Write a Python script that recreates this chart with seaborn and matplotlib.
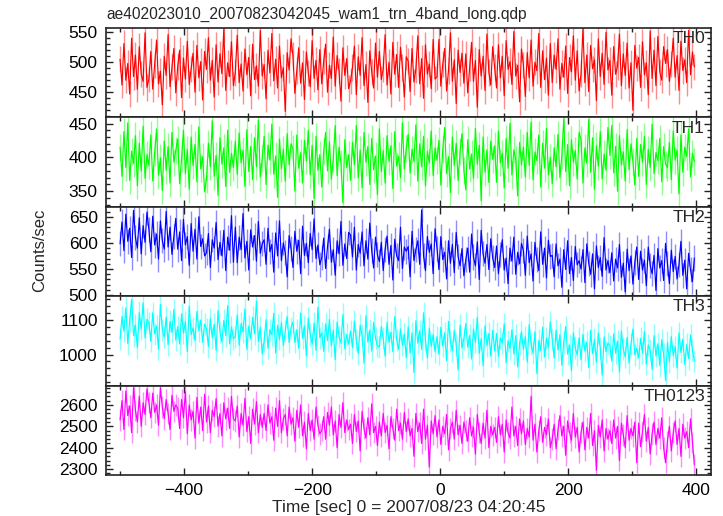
import numpy as np
import pandas as pd
import matplotlib
import matplotlib.pyplot as plt
import seaborn as sns
from matplotlib.ticker import MultipleLocator

matplotlib.use('Agg')

# light curve bins: start time [sec] and bin width [sec]
T_START = -500
T_BIN = 3

th0 = [505, 462, 531, 470, 498, 447, 540, 476, 512, 455, 526, 480, 468, 549, 458,
       472, 518, 455, 496, 537, 464, 485, 429, 510, 478, 546, 459, 492, 523, 449,
       493, 520, 441, 507, 472, 535, 463, 489, 515, 450, 528, 474, 501, 437, 518,
       488, 541, 470, 503, 442, 529, 467, 514, 481, 555, 453, 499, 476, 534, 461,
       483, 545, 466, 497, 452, 522, 479, 508, 444, 530, 471, 494, 460, 553, 477,
       496, 439, 520, 482, 548, 469, 505, 457, 527, 474, 491, 418, 516, 487, 539,
       511, 448, 486, 524, 465, 499, 438, 517, 482, 459, 536, 473, 503, 454, 521,
       464, 502, 530, 450, 495, 473, 542, 460, 511, 485, 435, 524, 478, 506, 456,
       469, 491, 527, 446, 509, 478, 541, 461, 496, 433, 519, 484, 457, 532, 475,
       518, 471, 489, 546, 462, 500, 447, 533, 480, 513, 458, 525, 491, 442, 509,
       502, 451, 523, 467, 488, 544, 464, 506, 440, 529, 480, 497, 456, 538, 472,
       476, 538, 460, 497, 523, 452, 486, 549, 468, 504, 431, 520, 483, 515, 465,
       514, 449, 490, 533, 468, 503, 425, 521, 477, 510, 453, 547, 483, 462, 526,
       492, 457, 529, 474, 510, 444, 536, 488, 501, 463, 551, 477, 495, 434, 522,
       495, 443, 516, 474, 537, 460, 500, 486, 548, 458, 519, 471, 507, 445, 531,
       466, 512, 488, 539, 455, 498, 475, 527, 448, 508, 484, 544, 470, 519, 452,
       481, 556, 466, 512, 451, 528, 489, 504, 436, 539, 476, 515, 463, 550, 487,
       503, 445, 526, 480, 493, 547, 461, 514, 478, 532, 457, 499, 420, 528, 490,
       508, 458, 534, 479, 499, 446, 552, 473, 520, 461, 543, 484, 470, 526, 498,
       521, 468, 497, 540, 475, 511, 453, 535, 486, 504, 466, 553, 479, 517, 492]

th1 = [415, 372, 438, 385, 451, 366, 409, 391, 432, 358, 421, 380, 446, 369, 404,
       388, 433, 365, 407, 442, 374, 399, 351, 424, 381, 416, 362, 437, 393, 410,
       427, 361, 398, 440, 376, 412, 353, 430, 388, 419, 364, 445, 383, 401, 349,
       368, 421, 386, 454, 372, 403, 344, 429, 390, 414, 357, 440, 378, 406, 385,
       424, 375, 436, 392, 410, 357, 441, 379, 416, 367, 429, 386, 455, 371, 398,
       431, 360, 418, 396, 449, 375, 402, 341, 427, 383, 412, 365, 435, 389, 420,
       413, 350, 433, 384, 407, 362, 425, 395, 440, 374, 418, 339, 431, 381, 404,
       356, 409, 437, 380, 423, 368, 398, 447, 373, 415, 391, 333, 426, 385, 404,
       366, 422, 389, 447, 370, 411, 355, 437, 393, 416, 360, 428, 382, 402, 345,
       442, 379, 410, 362, 432, 394, 417, 354, 438, 387, 402, 370, 451, 383, 413,
       434, 377, 412, 394, 448, 365, 420, 386, 431, 358, 409, 392, 439, 373, 414,
       396, 425, 359, 412, 444, 376, 401, 348, 430, 388, 421, 366, 408, 435, 380,
       352, 426, 383, 405, 369, 443, 390, 418, 336, 430, 378, 411, 363, 424, 397,
       417, 363, 439, 392, 406, 355, 428, 384, 450, 374, 411, 397, 343, 422, 389,
       415, 371, 437, 388, 452, 367, 408, 395, 433, 356, 421, 384, 443, 374, 400,
       361, 414, 386, 434, 370, 403, 457, 379, 419, 358, 426, 393, 410, 368, 437,
       426, 362, 414, 391, 456, 378, 429, 353, 417, 387, 438, 368, 405, 381, 444,
       403, 447, 377, 416, 350, 432, 389, 408, 365, 441, 382, 420, 394, 359, 428,
       372, 419, 393, 431, 360, 412, 385, 449, 376, 407, 395, 428, 364, 416, 390,
       385, 422, 367, 439, 396, 411, 346, 433, 378, 415, 401, 442, 371, 406, 394]

th2 = [598, 640, 585, 655, 603, 628, 572, 662, 610, 590, 648, 579, 633, 601, 659,
       625, 583, 651, 596, 617, 569, 642, 604, 588, 660, 592, 630, 578, 613, 647,
       588, 621, 566, 645, 596, 612, 557, 637, 584, 626, 569, 650, 593, 608, 575,
       581, 618, 553, 606, 590, 639, 568, 601, 575, 624, 547, 611, 586, 652, 563,
       630, 562, 611, 587, 656, 571, 603, 548, 625, 592, 614, 565, 641, 580, 598,
       606, 559, 628, 583, 597, 544, 619, 575, 642, 566, 600, 581, 535, 614, 589,
       553, 622, 584, 605, 541, 632, 576, 599, 562, 618, 587, 646, 570, 596, 558,
       572, 609, 551, 593, 626, 563, 587, 538, 604, 579, 641, 557, 598, 570, 620,
       615, 573, 630, 548, 597, 580, 621, 556, 604, 569, 638, 585, 552, 611, 577,
       564, 601, 547, 588, 613, 559, 595, 529, 607, 575, 566, 630, 551, 592, 584,
       593, 535, 622, 566, 587, 604, 559, 663, 575, 547, 612, 582, 598, 541, 627,
       590, 549, 612, 568, 582, 531, 604, 561, 597, 543, 620, 574, 556, 589, 537,
       568, 590, 544, 617, 573, 556, 602, 530, 624, 579, 561, 597, 549, 608, 571,
       553, 594, 541, 578, 606, 548, 571, 522, 590, 565, 611, 540, 582, 560, 599,
       585, 538, 613, 562, 579, 527, 601, 568, 547, 621, 559, 590, 533, 605, 574,
       576, 535, 598, 556, 569, 515, 587, 549, 604, 541, 572, 528, 593, 558, 566,
       550, 587, 524, 598, 561, 540, 579, 512, 594, 553, 572, 536, 610, 548, 566,
       543, 581, 527, 569, 552, 597, 534, 561, 506, 588, 547, 575, 521, 563, 592,
       530, 584, 548, 567, 518, 592, 557, 541, 576, 509, 589, 552, 566, 528, 599,
       561, 522, 586, 545, 574, 531, 559, 603, 538, 567, 512, 580, 549, 526, 571]

th3 = [1045, 1110, 1068, 1135, 1032, 1098, 1160, 1055, 1085, 1020, 1122, 1074, 1150, 1048, 1102,
       1092, 1038, 1121, 1060, 1083, 1016, 1145, 1071, 1050, 1108, 1029, 1096, 1064, 1130, 1042,
       1081, 1030, 1118, 1062, 1095, 1008, 1140, 1058, 1077, 1040, 1125, 1069, 1100, 1035, 1088,
       1075, 1023, 1104, 1049, 1088, 1012, 1127, 1066, 1037, 1099, 1055, 1142, 1031, 1080, 1046,
       1052, 1115, 1027, 1090, 1066, 1132, 1015, 1083, 1045, 1108, 1060, 1155, 1038, 1079, 1002,
       1039, 1101, 1018, 1072, 1057, 1119, 1004, 1085, 1044, 1093, 1026, 1067, 1110, 1035, 1078,
       1094, 1035, 1072, 1018, 1120, 1047, 1083, 996, 1105, 1058, 1030, 1091, 1012, 1137, 1049,
       1063, 1009, 1089, 1040, 1102, 1025, 1071, 985, 1094, 1052, 1033, 1116, 1017, 1058, 1030,
       1068, 1020, 1097, 1041, 1003, 1085, 1056, 975, 1112, 1036, 1071, 1010, 1093, 1047, 1025,
       1022, 1081, 1047, 995, 1093, 1036, 1064, 1008, 1110, 1043, 1015, 1074, 1027, 1059, 991,
       1080, 1005, 1062, 948, 1098, 1033, 1069, 1015, 1121, 1042, 990, 1077, 1024, 1058, 1008,
       1052, 1001, 1079, 1024, 1063, 982, 1096, 1038, 1011, 1070, 1029, 956, 1085, 1019, 1046,
       1090, 1021, 1055, 987, 1074, 1035, 1108, 1003, 1046, 968, 1083, 1026, 1061, 995, 1070,
       1010, 1061, 995, 1048, 1033, 1089, 976, 1040, 1017, 1072, 1002, 1055, 964, 1031, 1066,
       1015, 1052, 978, 1087, 1030, 1004, 1066, 945, 1041, 1012, 1079, 993, 1048, 1020, 1095,
       1044, 990, 1071, 1013, 1058, 969, 1036, 1081, 1001, 1027, 953, 1063, 1020, 998, 1049,
       985, 1058, 1010, 1036, 962, 1070, 1002, 1044, 978, 1062, 1019, 940, 1051, 1008, 1033,
       1026, 981, 1060, 1004, 1039, 950, 1068, 1016, 993, 1050, 975, 1031, 1074, 999, 1018,
       990, 1047, 1004, 1066, 972, 1028, 1012, 957, 1055, 996, 1031, 968, 1043, 1001, 925,
       1035, 979, 1052, 997, 1023, 961, 1063, 1006, 1044, 971, 1029, 988, 1057, 1012, 982]

th0123 = [2530, 2620, 2485, 2665, 2550, 2595, 2470, 2680, 2575, 2520, 2640, 2500, 2610, 2555, 2675,
          2610, 2540, 2655, 2565, 2600, 2505, 2680, 2590, 2535, 2625, 2560, 2485, 2645, 2570, 2600,
          2585, 2490, 2625, 2540, 2660, 2465, 2600, 2530, 2570, 2445, 2635, 2515, 2590, 2480, 2650,
          2520, 2595, 2470, 2575, 2545, 2630, 2500, 2560, 2455, 2610, 2535, 2585, 2490, 2640, 2535,
          2525, 2595, 2450, 2560, 2505, 2630, 2475, 2545, 2420, 2580, 2510, 2615, 2470, 2555, 2495,
          2560, 2480, 2600, 2515, 2545, 2435, 2585, 2500, 2620, 2470, 2535, 2555, 2455, 2590, 2510,
          2540, 2430, 2575, 2495, 2600, 2455, 2520, 2395, 2560, 2480, 2530, 2440, 2590, 2505, 2465,
          2480, 2545, 2440, 2565, 2505, 2590, 2460, 2525, 2400, 2555, 2495, 2610, 2470, 2530, 2485,
          2510, 2420, 2555, 2475, 2525, 2385, 2570, 2490, 2445, 2540, 2460, 2605, 2470, 2500, 2410,
          2520, 2455, 2560, 2470, 2505, 2395, 2545, 2490, 2435, 2580, 2480, 2515, 2440, 2565, 2475,
          2535, 2455, 2490, 2360, 2560, 2475, 2515, 2420, 2580, 2440, 2505, 2310, 2525, 2465, 2550,
          2450, 2530, 2415, 2500, 2465, 2555, 2390, 2490, 2520, 2440, 2575, 2460, 2505, 2420, 2520,
          2480, 2430, 2540, 2455, 2495, 2370, 2555, 2470, 2420, 2515, 2445, 2575, 2400, 2500, 2460,
          2495, 2425, 2545, 2460, 2510, 2380, 2530, 2470, 2445, 2590, 2455, 2500, 2410, 2535, 2465,
          2525, 2415, 2490, 2450, 2640, 2435, 2510, 2380, 2480, 2545, 2425, 2495, 2460, 2535, 2400,
          2440, 2510, 2395, 2485, 2550, 2455, 2500, 2365, 2525, 2470, 2435, 2560, 2450, 2495, 2380,
          2470, 2520, 2390, 2495, 2445, 2560, 2410, 2480, 2295, 2505, 2450, 2530, 2385, 2490, 2440,
          2480, 2420, 2530, 2445, 2500, 2340, 2515, 2460, 2400, 2550, 2435, 2490, 2455, 2520, 2330,
          2515, 2405, 2475, 2555, 2430, 2495, 2370, 2465, 2520, 2415, 2490, 2445, 2540, 2400, 2330,
          2430, 2500, 2385, 2470, 2525, 2415, 2490, 2360, 2510, 2445, 2475, 2400, 2535, 2425, 2320]

bands = ['TH0', 'TH1', 'TH2', 'TH3', 'TH0123']
series = [th0, th1, th2, th3, th0123]
errors = [22, 20, 24, 32, 50]
colors = ['#ff0000', '#00ff00', '#0000ff', '#00ffff', '#ff00ff']
ylims = [(408, 557), (327, 459), (498, 669), (910, 1169), (2273, 2690)]
major_steps = [50, 50, 50, 100, 100]
minor_steps = [10, 10, 10, 20, 20]

sns.set_style('ticks')
plt.rcParams['font.family'] = ['Liberation Sans', 'DejaVu Sans']
plt.rcParams['font.size'] = 12

fig, axes = plt.subplots(5, 1, figsize=(7.23, 5.16), dpi=100, sharex=True)
fig.subplots_adjust(left=0.1466, right=0.9834, top=0.9457, bottom=0.0795, hspace=0)

for ax, band, vals, err, col, ylim, mj, mn in zip(axes, bands, series, errors, colors,
                                                  ylims, major_steps, minor_steps):
    df = pd.DataFrame({'time': T_START + T_BIN * np.arange(len(vals)), 'rate': vals})
    # error bars in a lighter shade, then the light curve itself
    ax.vlines(df['time'], df['rate'] - err, df['rate'] + err, color=col, alpha=0.45, lw=1.0)
    sns.lineplot(data=df, x='time', y='rate', ax=ax, color=col, lw=0.85)
    ax.set_ylim(*ylim)
    ax.set_xlim(-522, 423)
    ax.set_xlabel('')
    ax.set_ylabel('')
    ax.yaxis.set_major_locator(MultipleLocator(mj))
    ax.yaxis.set_minor_locator(MultipleLocator(mn))
    ax.xaxis.set_major_locator(MultipleLocator(200))
    ax.xaxis.set_minor_locator(MultipleLocator(100))
    ax.tick_params(which='both', direction='in', top=True, right=True, width=1, colors='#222222',
                   labelcolor='black', labelsize=12.5)
    ax.tick_params(which='major', length=5, pad=6)
    ax.tick_params(which='minor', length=3)
    for sp in ax.spines.values():
        sp.set_linewidth(1.2)
        sp.set_color('#222222')
    ax.text(0.99, 0.965, band, transform=ax.transAxes, ha='right', va='top', fontsize=12.5)

axes[-1].set_xlabel('Time [sec] 0 = 2007/08/23 04:20:45', fontsize=12.5, labelpad=1)
fig.text(0.1466, 0.973, 'ae402023010_20070823042045_wam1_trn_4band_long.qdp',
         ha='left', va='center', fontsize=11.2)
fig.text(0.055, 0.515, 'Counts/sec', rotation=90, ha='center', va='center', fontsize=12)

fig.savefig('out.png', dpi=100)
plt.close(fig)
